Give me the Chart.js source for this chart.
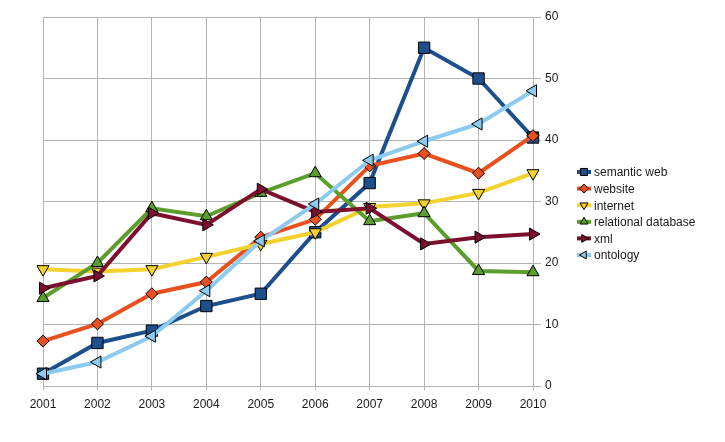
<!DOCTYPE html>
<html>
<head>
<meta charset="utf-8">
<script src="https://cdn.jsdelivr.net/npm/chart.js@4.4.0/dist/chart.umd.min.js"></script>
<style>
  html, body { margin: 0; padding: 0; background: #fff; }
</style>
</head>
<body>
<canvas id="trendChart" width="725" height="442"></canvas>
<script>
// DATA
const years = ['2001', '2002', '2003', '2004', '2005', '2006', '2007', '2008', '2009', '2010'];
const semanticWeb = [2, 7, 9, 13, 15, 25, 33, 55, 50, 40.4];
const website = [7.3, 10.1, 15, 16.9, 24.2, 27.1, 35.8, 37.8, 34.6, 40.7];
const internet = [19, 18.6, 19, 21, 23.1, 25, 29.1, 29.7, 31.4, 34.6];
const relationalDb = [14.3, 20, 28.9, 27.6, 31.4, 34.6, 26.8, 28.1, 18.7, 18.5];
const xml = [15.9, 17.9, 28.1, 26.2, 32, 28.3, 28.9, 23.1, 24.2, 24.7];
const ontology = [2, 3.9, 8.1, 15.5, 23.6, 29.6, 36.7, 39.8, 42.6, 48];
const yTicks = [0, 10, 20, 30, 40, 50, 60];

const gridColor = '#b3b3b3';
const textColor = '#1a1a1a';
const fontFamily = '"Liberation Sans", Arial, Helvetica, sans-serif';

function series(label, data, color, style, rotation, radius, order) {
    return {
        label: label,
        data: data,
        borderColor: color,
        backgroundColor: color,
        borderWidth: 4,
        pointStyle: style,
        rotation: rotation,
        pointRadius: radius,
        pointHoverRadius: radius,
        pointBorderColor: '#000',
        pointBorderWidth: 1,
        pointBackgroundColor: color,
        tension: 0,
        fill: false,
        order: order
    };
}

const datasets = [
    series('semantic web', semanticWeb, '#1d4f8d', 'rect', 0, 8, 6),
    series('website', website, '#e8511f', 'rectRot', 0, 6, 5),
    series('internet', internet, '#f4d12e', 'triangle', 180, 7, 4),
    series('relational database', relationalDb, '#5c9e2b', 'triangle', 0, 7, 3),
    series('xml', xml, '#7c0f2e', 'triangle', 90, 7, 2),
    series('ontology', ontology, '#8ccbef', 'triangle', -90, 7, 1)
];

// LEGEND - line with marker, like the original
const sideLegend = {
    id: 'sideLegend',
    afterDraw(chart) {
        const ctx = chart.ctx;
        const x0 = 577, x1 = 591, textX = 594;
        const top = 172, step = 16.6;
        ctx.save();
        ctx.font = '12px ' + fontFamily;
        ctx.textBaseline = 'middle';
        ctx.fillStyle = textColor;
        datasets.forEach((ds, i) => {
            const y = top + i * step;
            ctx.strokeStyle = ds.borderColor;
            ctx.lineWidth = 4;
            ctx.beginPath();
            ctx.moveTo(x0, y);
            ctx.lineTo(x1, y);
            ctx.stroke();
            ctx.fillStyle = ds.backgroundColor;
            ctx.strokeStyle = '#000';
            ctx.lineWidth = 1;
            Chart.helpers.drawPoint(ctx, {
                pointStyle: ds.pointStyle,
                rotation: ds.rotation,
                borderWidth: 1
            }, (x0 + x1) / 2, y);
            ctx.fillStyle = textColor;
            ctx.fillText(ds.label, textX, y + 1);
        });
        ctx.restore();
    }
};
// give legend markers a smaller radius
const _draw = Chart.helpers.drawPoint;
Chart.helpers.drawPoint = function (ctx, opts, x, y) {
    if (opts && opts.radius === undefined) {
        opts.radius = opts.pointStyle === 'rect' ? 5 : 4.5;
    }
    return _draw(ctx, opts, x, y);
};

new Chart(document.getElementById('trendChart'), {
    type: 'line',
    data: { labels: years, datasets: datasets },
    plugins: [sideLegend],
    options: {
        responsive: false,
        animation: false,
        layout: { padding: { left: 43, top: 17, right: 162, bottom: 26 } },
        plugins: {
            legend: { display: false },
            tooltip: { enabled: false }
        },
        scales: {
            x: {
                grid: { color: gridColor, lineWidth: 1, tickLength: 4 },
                border: { color: gridColor },
                ticks: {
                    color: textColor,
                    padding: 7,
                    maxRotation: 0,
                    font: { family: fontFamily, size: 12 }
                },
                afterFit(scale) { scale.height = 30; }
            },
            y: {
                position: 'right',
                min: yTicks[0],
                max: yTicks[yTicks.length - 1],
                grid: { color: gridColor, lineWidth: 1, tickLength: 8 },
                border: { color: gridColor },
                ticks: {
                    stepSize: 10,
                    color: textColor,
                    padding: 4,
                    font: { family: fontFamily, size: 12 }
                },
                afterBuildTicks(scale) { scale.ticks = yTicks.map(v => ({ value: v })); },
                afterFit(scale) { scale.width = 30; }
            }
        }
    }
});
</script>
</body>
</html>
